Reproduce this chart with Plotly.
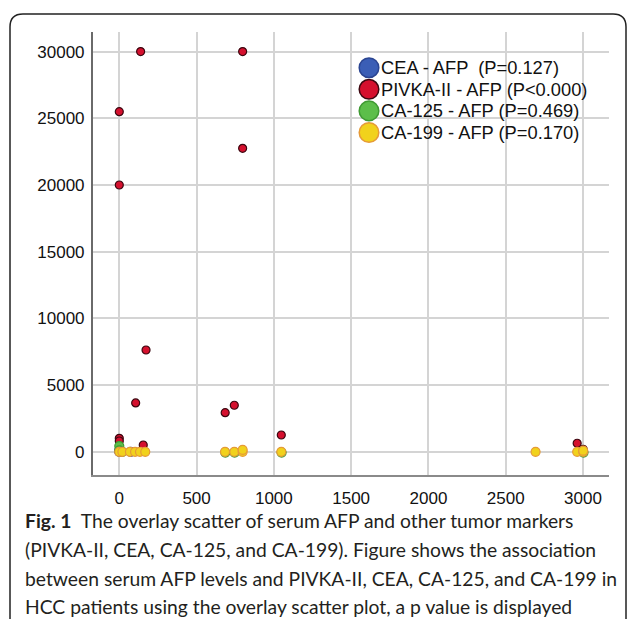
import plotly.graph_objects as go

W, H = 630, 619

series_names = ["CEA - AFP  (P=0.127)", "PIVKA-II - AFP (P<0.000)",
                "CA-125 - AFP (P=0.469)", "CA-199 - AFP (P=0.170)"]

cea_afp = [0, 74, 0]
cea_val = [0, 0, 120]

pivka_afp = [138, 798, 0, 798, 0, 173, 106, 744, 685, 1048, 0, 0, 155, 2962, 3001]
pivka_val = [30000, 30000, 25500, 22750, 20000, 7630, 3660, 3490, 2930, 1260, 1010, 810, 510, 640, 190]

ca125_afp = [0, 0, 20, 686, 746, 1050, 3003]
ca125_val = [430, 100, 0, -60, -60, -60, -60]

ca199_afp = [0, 20, 69, 102, 134, 168, 684, 744, 798, 798, 1048, 2693, 2962, 3001, 3001]
ca199_val = [0, 0, 0, 0, 0, 0, 0, 0, 0, 150, 0, 0, 0, 0, 80]

x_ticks = [0, 500, 1000, 1500, 2000, 2500, 3000]
y_ticks = [0, 5000, 10000, 15000, 20000, 25000, 30000]

caption_lines = [
    "<b>Fig. 1</b>  The overlay scatter of serum AFP and other tumor markers",
    "(PIVKA-II, CEA, CA-125, and CA-199). Figure shows the association",
    "between serum AFP levels and PIVKA-II, CEA, CA-125, and CA-199 in",
    "HCC patients using the overlay scatter plot, a p value is displayed",
]

fills = ["#3B5EB6", "#D5102E", "#5CBE4A", "#F1D21C"]
edges = ["#2B4592", "#3C0710", "#3F9A33", "#E69A38"]
sizes = [9, 8, 9, 9]

fig = go.Figure()
for name, xs, ys, f, e, s in zip(series_names,
                                 [cea_afp, pivka_afp, ca125_afp, ca199_afp],
                                 [cea_val, pivka_val, ca125_val, ca199_val],
                                 fills, edges, sizes):
    fig.add_trace(go.Scatter(x=xs, y=ys, mode="markers", name=name, showlegend=False,
                             marker=dict(size=s, color=f, line=dict(color=e, width=1.2))))

def px(x):
    return x / W

def py(y):
    return 1 - y / H

x0, x1 = 92.7, 609
y0, y1 = 32, 475

fig.update_layout(
    width=W, height=H,
    margin=dict(l=0, r=0, t=0, b=0),
    paper_bgcolor="white", plot_bgcolor="white",
    font=dict(family="Liberation Sans, Arial", size=17, color="#111"),
    xaxis=dict(domain=[px(x0), px(x1)], range=[-172, 3168],
               tickvals=x_ticks, ticktext=[str(v) for v in x_ticks],
               showgrid=True, gridcolor="#D4D4D4", gridwidth=1.5,
               zeroline=False, showline=True, linecolor="#8A8A8A", linewidth=1.5,
               ticks="", ticklabelstandoff=7),
    yaxis=dict(domain=[py(y1), py(y0)], range=[-1740, 31470],
               tickvals=y_ticks, ticktext=[str(v) for v in y_ticks],
               showgrid=True, gridcolor="#D4D4D4", gridwidth=1.5,
               zeroline=False, showline=True, linecolor="#6A6A6A", linewidth=1.5,
               ticks="", ticklabelstandoff=3),
)

# manual legend
leg_x, leg_y0, leg_dy, r = 369, 67.7, 21.6, 9.8
for i, (name, f, e) in enumerate(zip(series_names, fills, edges)):
    cy = leg_y0 + i * leg_dy
    fig.add_shape(type="circle", xref="paper", yref="paper",
                  x0=px(leg_x - r), x1=px(leg_x + r), y0=py(cy + r), y1=py(cy - r),
                  fillcolor=f, line=dict(color=e, width=1.5), layer="above")
    fig.add_annotation(xref="paper", yref="paper", x=px(380), y=py(cy),
                       text=name, showarrow=False, xanchor="left", yanchor="middle",
                       borderpad=0,
                       font=dict(family="Liberation Sans, Arial", size=18.3, color="#111"))

# caption
cap_y = [520, 549, 578, 606]
for t, cy in zip(caption_lines, cap_y):
    fig.add_annotation(xref="paper", yref="paper", x=px(24), y=py(cy),
                       text=t, showarrow=False, xanchor="left", yanchor="middle",
                       borderpad=0,
                       font=dict(family="Lato", size=19.3, color="#231F20"))

# outer frame
fr = "M {a},{b} L {a},{c} Q {a},{d} {e},{d} L {f},{d} Q {g},{d} {g},{c} L {g},{b}".format(
    a=px(10), b=py(640), c=py(27), d=py(14), e=px(23), f=px(613), g=px(626))
fig.add_shape(type="path", xref="paper", yref="paper", path=fr,
              line=dict(color="#222", width=1.5))

fig.write_html("out.html", config={"displayModeBar": False},
               post_script="document.body.style.margin='0px';")
